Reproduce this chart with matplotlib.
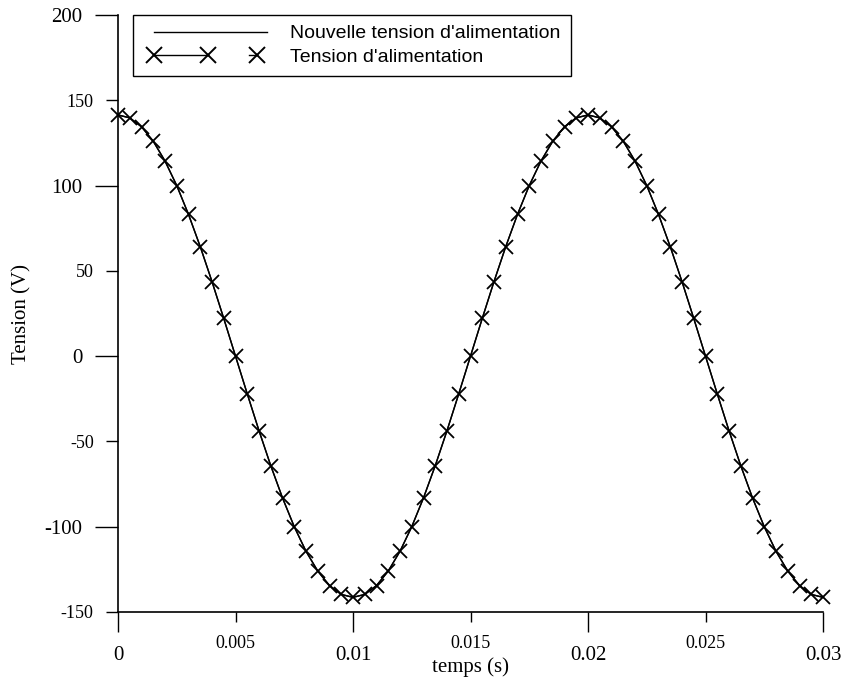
"""Tension d'alimentation : ancienne et nouvelle courbe sur 0 - 30 ms."""

import matplotlib

matplotlib.use('Agg')
import matplotlib.pyplot as plt
from matplotlib.legend_handler import HandlerBase
from matplotlib.lines import Line2D
from matplotlib.ticker import FixedLocator, FixedFormatter

# temps (s), un point toutes les 0.5 ms
temps = [
    0.0, 0.0005, 0.001, 0.0015, 0.002, 0.0025, 0.003, 0.0035, 0.004, 0.0045,
    0.005, 0.0055, 0.006, 0.0065, 0.007, 0.0075, 0.008, 0.0085, 0.009, 0.0095,
    0.010, 0.0105, 0.011, 0.0115, 0.012, 0.0125, 0.013, 0.0135, 0.014, 0.0145,
    0.015, 0.0155, 0.016, 0.0165, 0.017, 0.0175, 0.018, 0.0185, 0.019, 0.0195,
    0.020, 0.0205, 0.021, 0.0215, 0.022, 0.0225, 0.023, 0.0235, 0.024, 0.0245,
    0.025, 0.0255, 0.026, 0.0265, 0.027, 0.0275, 0.028, 0.0285, 0.029, 0.0295,
    0.030,
]

# tension d'alimentation (V)
tension = [
    141.4, 139.7, 134.5, 126.0, 114.4, 100.0, 83.1, 64.2, 43.7, 22.1,
    0.0, -22.1, -43.7, -64.2, -83.1, -100.0, -114.4, -126.0, -134.5, -139.7,
    -141.4, -139.7, -134.5, -126.0, -114.4, -100.0, -83.1, -64.2, -43.7, -22.1,
    0.0, 22.1, 43.7, 64.2, 83.1, 100.0, 114.4, 126.0, 134.5, 139.7,
    141.4, 139.7, 134.5, 126.0, 114.4, 100.0, 83.1, 64.2, 43.7, 22.1,
    0.0, -22.1, -43.7, -64.2, -83.1, -100.0, -114.4, -126.0, -134.5, -139.7,
    -141.4,
]

# nouvelle tension d'alimentation (V), confondue avec l'ancienne
nouvelle_tension = list(tension)

x_major = [0, 0.01, 0.02, 0.03]
x_major_labels = ['0', '0.01', '0.02', '0.03']
x_minor = [0.005, 0.015, 0.025]
x_minor_labels = ['0.005', '0.015', '0.025']
y_major = [-100, 0, 100, 200]
y_major_labels = ['-100', '0', '100', '200']
y_minor = [-150, -50, 50, 150]
y_minor_labels = ['-150', '-50', '50', '150']

SERIF = 'Liberation Serif'
SANS = 'Liberation Sans'


class PlainLineHandler(HandlerBase):
    def create_artists(self, legend, orig_handle, xdescent, ydescent,
                       width, height, fontsize, trans):
        y = height / 2 - ydescent
        x0 = -xdescent
        line = Line2D([x0 + 0.078 * width, x0 + 0.876 * width], [y, y],
                      color='black', lw=1.0, transform=trans)
        return [line]


class CrossLineHandler(HandlerBase):
    def create_artists(self, legend, orig_handle, xdescent, ydescent,
                       width, height, fontsize, trans):
        y = height / 2 - ydescent
        x0 = -xdescent
        xs = [x0 + f * width for f in (0.078, 0.459, 0.805)]
        seg1 = Line2D([xs[0], xs[1]], [y, y], color='black', lw=1.0, transform=trans)
        seg2 = Line2D([x0 + 0.749 * width, xs[2]], [y, y], color='black', lw=1.0,
                      transform=trans)
        marks = Line2D(xs, [y] * 3, ls='none', marker='x', ms=11, mew=1.4,
                       color='black', transform=trans)
        return [seg1, seg2, marks]


fig = plt.figure(figsize=(8.44, 6.86), dpi=100)
ax = fig.add_axes([118 / 844, 1 - 612 / 686, 705 / 844, 597 / 686])

new_line, = ax.plot(temps, nouvelle_tension, color='black', lw=1.0, clip_on=False)
old_line, = ax.plot(temps, tension, color='black', lw=1.0, marker='x', ms=9.5,
                    mew=1.3, clip_on=False)

ax.set_xlim(0, 0.03)
ax.set_ylim(-150, 200)

for side in ('top', 'right'):
    ax.spines[side].set_visible(False)
for side in ('left', 'bottom'):
    ax.spines[side].set_linewidth(1.2)

ax.xaxis.set_major_locator(FixedLocator(x_major))
ax.xaxis.set_major_formatter(FixedFormatter(x_major_labels))
ax.xaxis.set_minor_locator(FixedLocator(x_minor))
ax.xaxis.set_minor_formatter(FixedFormatter(x_minor_labels))
ax.yaxis.set_major_locator(FixedLocator(y_major))
ax.yaxis.set_major_formatter(FixedFormatter(y_major_labels))
ax.yaxis.set_minor_locator(FixedLocator(y_minor))
ax.yaxis.set_minor_formatter(FixedFormatter(y_minor_labels))

ax.tick_params(axis='x', which='major', direction='out', length=14.5, width=1.0,
               pad=10.3, labelsize=15)
ax.tick_params(axis='x', which='minor', direction='out', length=7.5, width=1.0,
               pad=9, labelsize=13)
ax.tick_params(axis='y', which='major', direction='out', length=16.5, width=1.0,
               pad=9, labelsize=15)
ax.tick_params(axis='y', which='minor', direction='out', length=8.5, width=1.0,
               pad=9, labelsize=13)
for lab in ax.get_xticklabels(which='both') + ax.get_yticklabels(which='both'):
    lab.set_fontfamily(SERIF)

ax.set_xlabel('temps (s)', fontsize=15, family=SERIF)
ax.xaxis.label.set_va('center')
ax.xaxis.set_label_coords(0.5, (612 - 667) / 597)
ax.set_ylabel('Tension (V)', fontsize=15, family=SERIF)
ax.yaxis.label.set_va('center')
ax.yaxis.set_label_coords((22 - 118) / 705, 0.5)

leg = ax.legend([new_line, old_line],
                ["Nouvelle tension d'alimentation", "Tension d'alimentation"],
                handler_map={new_line: PlainLineHandler(), old_line: CrossLineHandler()},
                loc='upper left', bbox_to_anchor=(133 / 844, 1 - 15 / 686),
                bbox_transform=fig.transFigure, borderaxespad=0,
                prop={'family': SANS, 'size': 14}, handlelength=7.3,
                handletextpad=0.3, borderpad=0.5, labelspacing=0.3,
                fancybox=False, framealpha=1, edgecolor='black')
leg.get_frame().set_linewidth(1.0)

fig.savefig('out.png', dpi=100)
